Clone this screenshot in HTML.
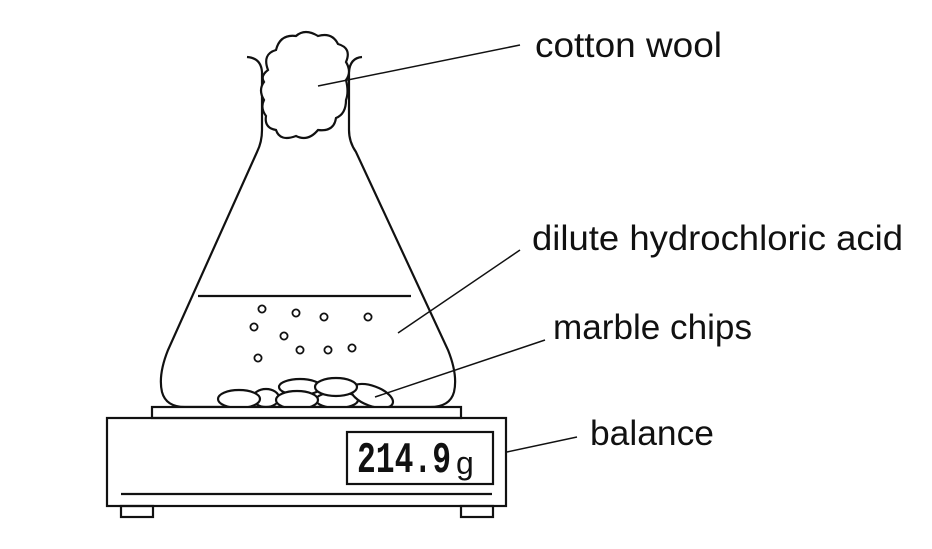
<!DOCTYPE html>
<html><head><style>html,body{margin:0;padding:0;background:#fff}svg{display:block}text{font-family:"Liberation Sans",sans-serif;font-size:35px;fill:#111}</style></head><body>
<svg width="932" height="549" viewBox="0 0 932 549" xmlns="http://www.w3.org/2000/svg" fill="none" stroke="#111" stroke-width="2.2">
<!-- flask -->
<path d="M247,57 Q261,58 262,72 L262,130 Q262,142 257,152 L168,350 Q158,375 162,392 Q166,407 185,407 L430,407 Q450,407 454,392 Q458,375 448,350 L356,152 Q349,142 349,130 L349,72 Q350,58 362,57"/>
<line x1="198" y1="296" x2="411" y2="296"/>
<!-- cotton wool -->
<path d="M268,70 Q262,54 276,50 Q280,34 296,36 Q305,28 318,36 Q332,32 338,44 Q352,48 346,62 Q352,72 346,80 Q349,92 346,100 Q346,114 336,118 Q334,132 318,130 Q308,142 296,136 Q280,142 276,130 Q264,128 266,116 Q260,108 264,100 Q258,90 264,82 Q260,76 268,70Z" fill="#fff"/>
<!-- bubbles -->
<g stroke-width="1.8">
<circle cx="262" cy="309" r="3.6"/><circle cx="296" cy="313" r="3.6"/><circle cx="324" cy="317" r="3.6"/><circle cx="368" cy="317" r="3.6"/>
<circle cx="254" cy="327" r="3.6"/><circle cx="284" cy="336" r="3.6"/><circle cx="300" cy="350" r="3.6"/><circle cx="328" cy="350" r="3.6"/>
<circle cx="352" cy="348" r="3.6"/><circle cx="258" cy="358" r="3.6"/>
</g>
<!-- marble chips -->
<g fill="#fff">
<ellipse cx="300" cy="387" rx="21" ry="8"/>
<ellipse cx="266" cy="398" rx="13" ry="9"/>
<ellipse cx="239" cy="399" rx="21" ry="9"/>
<ellipse cx="337" cy="400" rx="21" ry="8"/>
<ellipse cx="297" cy="400" rx="21" ry="9"/>
<ellipse cx="372" cy="396" rx="22" ry="10" transform="rotate(20 372 396)"/>
<ellipse cx="336" cy="387" rx="21" ry="9"/>
</g>
<!-- balance -->
<rect x="152" y="407" width="309" height="11" fill="#fff"/>
<rect x="107" y="418" width="399" height="88"/>
<line x1="121" y1="494" x2="492" y2="494"/>
<rect x="121" y="506" width="32" height="11"/>
<rect x="461" y="506" width="32" height="11"/>
<rect x="347" y="432" width="146" height="52"/>
<text x="357" y="472" stroke="none" textLength="94" lengthAdjust="spacingAndGlyphs" style="font-family:'Liberation Mono',monospace;font-size:44px;font-weight:bold">214.9</text>
<text x="456" y="474" stroke="none" style="font-size:32px">g</text>
<!-- leader lines -->
<g stroke-width="1.5">
<line x1="318" y1="86" x2="520" y2="45"/>
<line x1="398" y1="333" x2="520" y2="250"/>
<line x1="375" y1="397" x2="545" y2="340"/>
<line x1="507" y1="452" x2="577" y2="437"/>
</g>
<g stroke="none">
<text x="535" y="57" textLength="187" lengthAdjust="spacingAndGlyphs">cotton wool</text>
<text x="532" y="250" textLength="371" lengthAdjust="spacingAndGlyphs">dilute hydrochloric acid</text>
<text x="553" y="339" textLength="199" lengthAdjust="spacingAndGlyphs">marble chips</text>
<text x="590" y="445" textLength="124" lengthAdjust="spacingAndGlyphs">balance</text>
</g>
</svg>
</body></html>
